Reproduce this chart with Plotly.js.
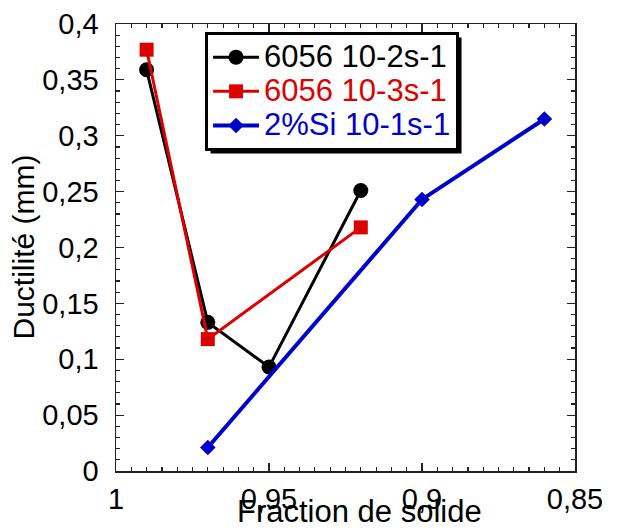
<!DOCTYPE html>
<html>
<head>
<meta charset="utf-8">
<script src="https://cdn.plot.ly/plotly-3.0.1.min.js"></script>
<style>html,body{margin:0;padding:0;background:#fff;}#chart{width:618px;height:530px;}</style>
</head>
<body>
<div id="chart"></div>
<script>
// Data
const blackName = "6056 10-2s-1";
const blackX = [0.99, 0.97, 0.95, 0.92];
const blackY = [0.359, 0.133, 0.093, 0.251];

const redName = "6056 10-3s-1";
const redX = [0.99, 0.97, 0.92];
const redY = [0.377, 0.118, 0.218];

const blueName = "2%Si 10-1s-1";
const blueX = [0.97, 0.90, 0.86];
const blueY = [0.021, 0.243, 0.315];

const xTitle = "Fraction de solide";
const yTitle = "Ductilité (mm)";

const FONT = "Liberation Sans, Arial, sans-serif";
const BLACK = '#000000', RED = '#dd0000', BLUE = '#0000cc';

function legName(name, color) {
  return '<span style="font-size:31px;color:' + color + '">' + name + '</span>';
}

const traces = [
  {x: blackX, y: blackY, name: legName(blackName, BLACK), type: 'scatter', mode: 'lines+markers',
   line: {color: BLACK, width: 3}, marker: {symbol: 'circle', size: 15, color: BLACK}},
  {x: redX, y: redY, name: legName(redName, RED), type: 'scatter', mode: 'lines+markers',
   line: {color: RED, width: 3}, marker: {symbol: 'square', size: 14, color: RED}},
  {x: blueX, y: blueY, name: legName(blueName, BLUE), type: 'scatter', mode: 'lines+markers',
   line: {color: BLUE, width: 4}, marker: {symbol: 'diamond', size: 12, color: BLUE}}
];

const axisCommon = {
  showgrid: false, zeroline: false, showline: true, linecolor: '#222', linewidth: 1.5,
  mirror: 'ticks', ticks: 'inside', ticklen: 8, tickwidth: 1.2, tickcolor: '#222',
  tickfont: {family: FONT, size: 29, color: '#000'}
};

const layout = {
  width: 618, height: 530,
  margin: {l: 116, r: 43, t: 24, b: 59},
  paper_bgcolor: '#fff', plot_bgcolor: '#fff',
  separators: ',.',
  showlegend: true,
  font: {family: FONT, color: '#000'},
  xaxis: Object.assign({}, axisCommon, {
    range: [1, 0.85], tickmode: 'linear', tick0: 0.85, dtick: 0.05,
    minor: {dtick: 0.005, ticks: 'inside', ticklen: 4, tickcolor: '#222', showgrid: false},
    ticklabelstandoff: 2
  }),
  yaxis: Object.assign({}, axisCommon, {
    range: [0, 0.4], tickmode: 'linear', tick0: 0, dtick: 0.05,
    minor: {dtick: 0.01, ticks: 'inside', ticklen: 4, tickcolor: '#222', showgrid: false},
    ticklabelstandoff: 10
  }),
  legend: {
    x: 0.194, y: 0.982, xanchor: 'left', yanchor: 'top',
    bgcolor: '#fff', bordercolor: '#000', borderwidth: 3,
    font: {family: FONT, size: 24},
    tracegroupgap: 0, itemwidth: 46
  },
  annotations: [
    {text: xTitle, xref: 'paper', yref: 'paper', x: 0.53, y: -0.09,
     xanchor: 'center', yanchor: 'middle', showarrow: false,
     font: {family: FONT, size: 31, color: '#000'}},
    {text: yTitle, xref: 'paper', yref: 'paper', x: -0.2026, y: 0.50,
     xanchor: 'center', yanchor: 'middle', textangle: -90, showarrow: false,
     font: {family: FONT, size: 30, color: '#000'}}
  ]
};

Plotly.newPlot('chart', traces, layout, {displayModeBar: false, staticPlot: true}).then(function (gd) {
  // Drop shadow behind the legend box, sized from the rendered legend
  const bg = gd.querySelector('.legend .bg');
  if (!bg) return;
  const r = bg.getBoundingClientRect();
  const c = gd.getBoundingClientRect();
  const fs = gd._fullLayout._size;
  const off = 4;
  const px2x = function (p) { return (p - c.left - fs.l) / fs.w; };
  const px2y = function (p) { return 1 - (p - c.top - fs.t) / fs.h; };
  Plotly.relayout(gd, {shapes: [{
    type: 'rect', xref: 'paper', yref: 'paper', layer: 'above',
    x0: px2x(r.left + off), x1: px2x(r.right + off),
    y0: px2y(r.bottom + off), y1: px2y(r.top + off),
    fillcolor: '#000', line: {width: 0}
  }]});
});
</script>
</body>
</html>
